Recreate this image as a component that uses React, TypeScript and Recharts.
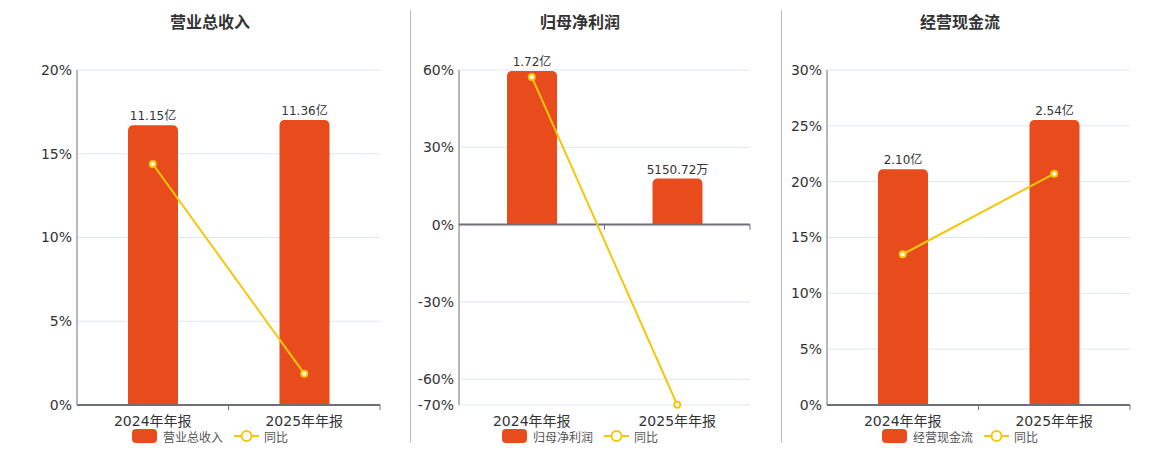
import React from "react";
import {
  ComposedChart,
  Bar,
  Line,
  XAxis,
  YAxis,
  CartesianGrid,
  LabelList,
  Legend,
  ReferenceLine,
} from "recharts";

// ---------- data ----------
const categories = ["2024年年报", "2025年年报"];

const revenueValues = [11.15, 11.36];
const revenueLabels = ["11.15亿", "11.36亿"];
const revenueYoy = [14.39, 1.87];
const revenueTicks = [0, 5, 10, 15, 20];

const profitValues = [1.72, 0.515072];
const profitLabels = ["1.72亿", "5150.72万"];
const profitYoy = [57.3, -69.9];
const profitTicks = [-70, -60, -30, 0, 30, 60];

const cashValues = [2.1, 2.54];
const cashLabels = ["2.10亿", "2.54亿"];
const cashYoy = [13.5, 20.72];
const cashTicks = [0, 5, 10, 15, 20, 25, 30];

// ---------- style ----------
const FONT = "'DejaVu Sans', 'Noto Sans CJK SC', sans-serif";
const BAR_COLOR = "#E84C1D";
const LINE_COLOR = "#F5C70A";
const AXIS_COLOR = "#6E7079";
const GRID_COLOR = "#E0E6F1";
const PLOT_TOP = 62;
const CHART_H = 442;

type PanelProps = {
  title: string;
  barName: string;
  values: number[];
  labels: string[];
  yoy: number[];
  ticks: number[];
  pctDomain: [number, number];
  barDomain: [number, number];
  left: number;
  width: number;
  yAxisWidth: number;
  marginRight: number;
  center: number; // chart-relative centre for title & legend
  zeroAxis: boolean;
};

const makeTick = (zeroFrac: number | null) => (props: any) => {
  const { x, y, payload, width, visibleTicksCount } = props;
  const band =
    width && visibleTicksCount ? width / visibleTicksCount : (payload?.offset ?? 75) * 2;
  const lineY = zeroFrac == null ? y : y - (y - PLOT_TOP) * zeroFrac;
  const bx = x + band / 2;
  return (
    <g>
      <line x1={bx} x2={bx} y1={lineY} y2={lineY + 5} stroke={AXIS_COLOR} strokeWidth={1} />
      <text
        x={x}
        y={y}
        dy={21}
        textAnchor="middle"
        fontSize={14}
        fill="#333"
        fontFamily={FONT}
      >
        {payload.value}
      </text>
    </g>
  );
};

const LegendContent = ({ barName }: { barName: string }) => (
  <div
    style={{
      display: "flex",
      justifyContent: "center",
      alignItems: "center",
      height: 18,
      fontSize: 12,
      color: "#555",
      fontFamily: FONT,
      whiteSpace: "nowrap",
    }}
  >
    <span
      style={{
        display: "inline-block",
        width: 25,
        height: 14,
        borderRadius: 4,
        background: BAR_COLOR,
        marginRight: 6,
      }}
    />
    <span style={{ marginRight: 11 }}>{barName}</span>
    <svg width={25} height={14} style={{ marginRight: 5 }}>
      <line x1={0} x2={25} y1={7} y2={7} stroke={LINE_COLOR} strokeWidth={2} />
      <circle cx={12.5} cy={7} r={5} fill="#fff" stroke={LINE_COLOR} strokeWidth={2} />
    </svg>
    <span>同比</span>
  </div>
);

const Panel = (p: PanelProps) => {
  const data = categories.map((c, i) => ({
    name: c,
    value: p.values[i],
    yoy: p.yoy[i],
    label: p.labels[i],
  }));
  const zeroFrac = p.zeroAxis
    ? (0 - p.pctDomain[0]) / (p.pctDomain[1] - p.pctDomain[0])
    : null;
  const legendW = 260;
  return (
    <div style={{ position: "absolute", left: p.left, top: 0, width: p.width, height: CHART_H }}>
      <div
        style={{
          position: "absolute",
          left: p.center - 100,
          width: 200,
          top: 5,
          lineHeight: "20px",
          fontSize: 16,
          fontWeight: "bold",
          color: "#333",
          textAlign: "center",
          fontFamily: FONT,
          zIndex: 2,
        }}
      >
        {p.title}
      </div>
      <ComposedChart
        width={p.width}
        height={CHART_H}
        data={data}
        margin={{ top: PLOT_TOP, right: p.marginRight, bottom: 5, left: 0 }}
        style={{ fontFamily: FONT }}
      >
        <CartesianGrid vertical={false} stroke={GRID_COLOR} yAxisId="pct" />
        <XAxis
          dataKey="name"
          height={22}
          tickSize={0}
          tickMargin={0}
          tickLine={false}
          axisLine={p.zeroAxis ? false : { stroke: AXIS_COLOR, strokeWidth: 2 }}
          tick={makeTick(zeroFrac)}
          interval={0}
        />
        <YAxis
          yAxisId="pct"
          width={p.yAxisWidth}
          domain={p.pctDomain}
          ticks={p.ticks}
          interval={0}
          tickFormatter={(v: number) => `${v}%`}
          tick={{ fontSize: 14, fill: "#333", fontFamily: FONT }}
          tickLine={false}
          tickSize={0}
          tickMargin={5}
          axisLine={{ stroke: AXIS_COLOR, strokeWidth: 1 }}
        />
        <YAxis yAxisId="bar" orientation="right" hide domain={p.barDomain} />
        {p.zeroAxis && (
          <ReferenceLine y={0} yAxisId="pct" stroke={AXIS_COLOR} strokeWidth={2} />
        )}
        <Bar
          yAxisId="bar"
          dataKey="value"
          name={p.barName}
          fill={BAR_COLOR}
          barSize={50}
          radius={[5, 5, 0, 0]}
          isAnimationActive={false}
        >
          <LabelList dataKey="label" position="top" fontSize={12} fill="#333" fontFamily={FONT} />
        </Bar>
        <Line
          yAxisId="pct"
          dataKey="yoy"
          name="同比"
          stroke={LINE_COLOR}
          strokeWidth={2}
          dot={{ r: 3, fill: "#fff", stroke: LINE_COLOR, strokeWidth: 2 }}
          activeDot={false}
          isAnimationActive={false}
        />
        <Legend
          verticalAlign="bottom"
          height={18}
          wrapperStyle={{ left: p.center - legendW / 2, width: legendW, top: 419, height: 18 }}
          content={() => <LegendContent barName={p.barName} />}
        />
      </ComposedChart>
    </div>
  );
};

export default function App() {
  return (
    <div
      style={{
        position: "relative",
        width: 1144,
        height: CHART_H,
        fontFamily: FONT,
        background: "#fff",
      }}
    >
      <Panel
        title="营业总收入"
        barName="营业总收入"
        values={revenueValues}
        labels={revenueLabels}
        yoy={revenueYoy}
        ticks={revenueTicks}
        pctDomain={[0, 20]}
        barDomain={[0, 13.35]}
        left={0}
        width={392}
        yAxisWidth={69}
        marginRight={20}
        center={202}
        zeroAxis={false}
      />
      <Panel
        title="归母净利润"
        barName="归母净利润"
        values={profitValues}
        labels={profitLabels}
        yoy={profitYoy}
        ticks={profitTicks}
        pctDomain={[-70, 60]}
        barDomain={[-2.018, 1.73]}
        left={404}
        width={350}
        yAxisWidth={47}
        marginRight={12}
        center={168}
        zeroAxis={true}
      />
      <Panel
        title="经营现金流"
        barName="经营现金流"
        values={cashValues}
        labels={cashLabels}
        yoy={cashYoy}
        ticks={cashTicks}
        pctDomain={[0, 30]}
        barDomain={[0, 2.985]}
        left={775}
        width={360}
        yAxisWidth={44}
        marginRight={13}
        center={177}
        zeroAxis={false}
      />
      <div style={{ position: "absolute", left: 402, top: 2, width: 1, height: 433, background: "#BBBBBB", zIndex: 3 }} />
      <div style={{ position: "absolute", left: 773, top: 2, width: 1, height: 433, background: "#BBBBBB", zIndex: 3 }} />
    </div>
  );
}
